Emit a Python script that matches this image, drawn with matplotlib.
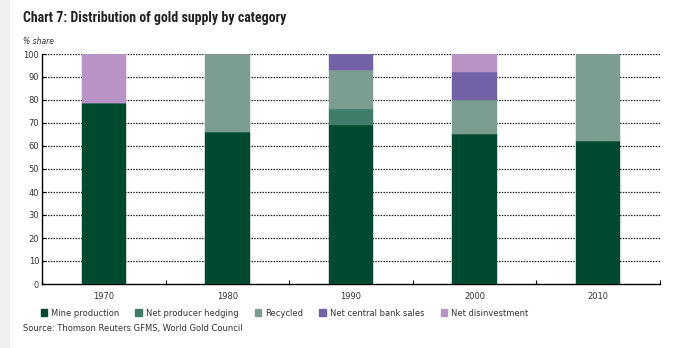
import matplotlib
matplotlib.use("Agg")
import matplotlib.pyplot as plt
from matplotlib.patches import Patch, Rectangle
import numpy as np

years = ["1970", "1980", "1990", "2000", "2010"]
mine = [78.5, 66, 69, 65, 62]
hedging = [0, 0, 7, 0, 0]
recycled = [0, 34, 17, 15, 38]
central_bank = [0, 0, 7, 12, 0]
disinvestment = [21.5, 0, 0, 8, 0]

series = [
    ("Mine production", mine, "#014a30"),
    ("Net producer hedging", hedging, "#3f7d6a"),
    ("Recycled", recycled, "#7b9e91"),
    ("Net central bank sales", central_bank, "#7462a8"),
    ("Net disinvestment", disinvestment, "#b893c5"),
]

narrow = ["Roboto Condensed", "Roboto", "DejaVu Sans"]

fig = plt.figure(figsize=(6.75, 3.48), dpi=100)
fig.patch.set_facecolor("white")
fig.add_artist(Rectangle((0, 0), 10 / 675, 1, transform=fig.transFigure,
                         facecolor="#efefef", edgecolor="none"))
ax = fig.add_axes([42 / 675, 1 - 284 / 348, (660 - 42) / 675, (284 - 54) / 348])

x = np.arange(len(years))
bottom = np.zeros(len(years))
for name, vals, col in series:
    vals = np.array(vals, dtype=float)
    ax.bar(x, vals, bottom=bottom, width=0.36, color=col, label=name,
           edgecolor=col, linewidth=0.3, zorder=3)
    bottom += vals

ax.set_xlim(-0.5, len(years) - 0.5)
ax.set_ylim(0, 100)
ax.set_yticks(np.arange(0, 101, 10))
ax.set_yticklabels([str(v) for v in range(0, 101, 10)], fontsize=6, color="#333333")
ax.set_xticks(x)
ax.set_xticklabels(years, fontsize=6, color="#333333")
ax.tick_params(axis="x", length=0, pad=6)
ax.set_xticks(np.arange(-0.5, len(years), 1), minor=True)
ax.tick_params(axis="x", which="minor", length=3, direction="in", width=0.8)
ax.tick_params(axis="y", length=3, direction="in", width=0.8, pad=2)
for v in range(10, 101, 10):
    ax.axhline(v, color="#222222", linestyle=(0, (1.2, 1.0)), linewidth=0.9, zorder=1)
for s in ["top", "right"]:
    ax.spines[s].set_visible(False)
ax.spines["left"].set_linewidth(1.0)
ax.spines["bottom"].set_linewidth(1.0)

fig.text(23 / 675, 1 - 18 / 348, "Chart 7: Distribution of gold supply by category",
         fontsize=10, fontweight="bold", color="#222222", va="center", family=narrow)
fig.text(23 / 675, 1 - 42 / 348, "% share", fontsize=5.5, style="italic",
         color="#333333", va="center")

handles = [Patch(facecolor=c, edgecolor=c, label=n) for n, _, c in series]
fig.legend(handles=handles, loc="center left", bbox_to_anchor=(33 / 675, 1 - 313 / 348),
           ncol=5, frameon=False, fontsize=6, handlelength=0.8, handleheight=0.8,
           handletextpad=0.5, columnspacing=1.9, labelcolor="#333333")
fig.text(23 / 675, 1 - 328 / 348, "Source: Thomson Reuters GFMS, World Gold Council",
         fontsize=6, color="#333333", va="center")

fig.savefig("out.png", dpi=100)
